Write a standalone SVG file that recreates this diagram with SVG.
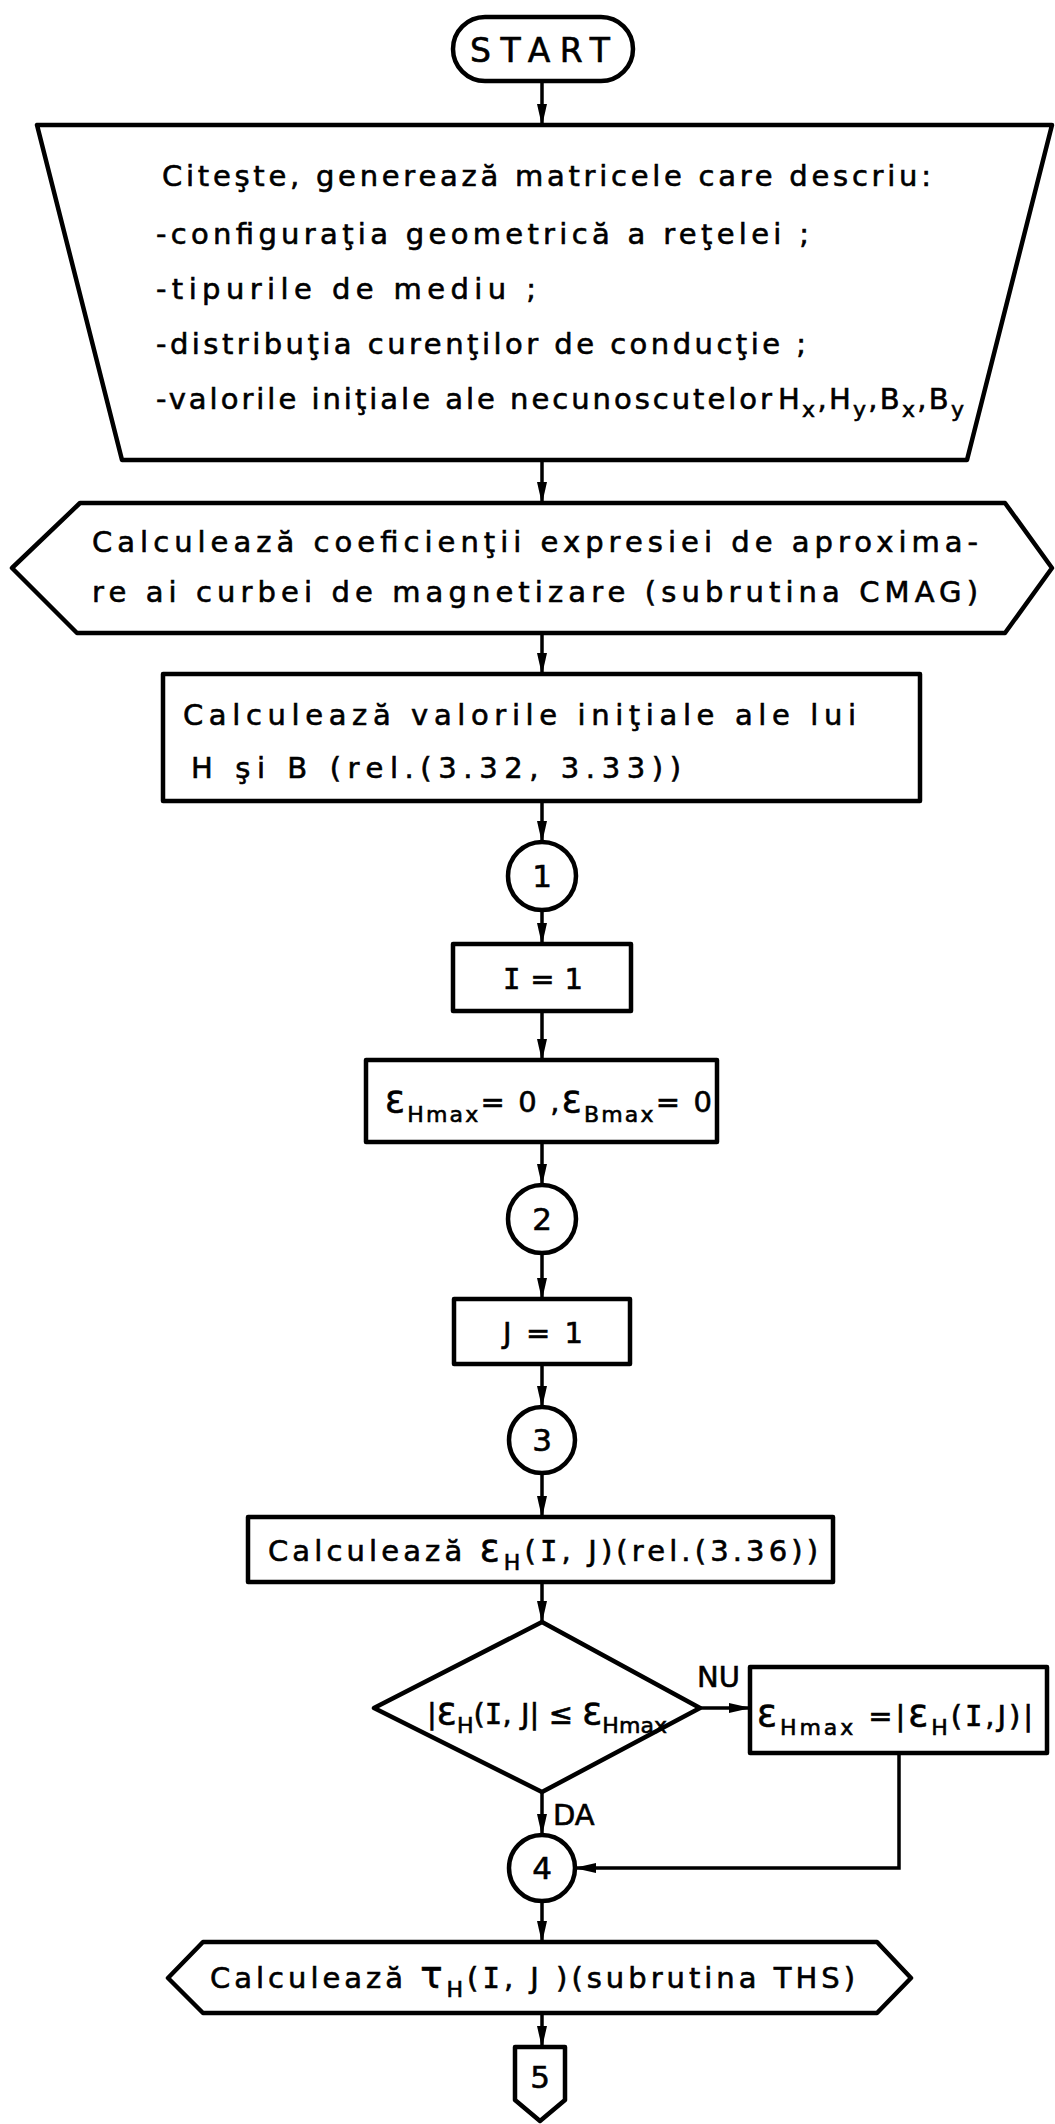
<svg xmlns="http://www.w3.org/2000/svg" width="1055" height="2124" viewBox="0 0 1055 2124">
<style>
.box{fill:#fff;stroke:#000;stroke-width:4.5;stroke-linejoin:round}
.con{fill:none;stroke:#000;stroke-width:3.5}
.t{font-family:'DejaVu Sans','Liberation Sans',sans-serif;font-size:29px;fill:#000;stroke:#000;stroke-width:0.6}
.s{font-size:22px}
.e{font-size:37px}
.n{font-size:31px}
.m{font-family:'DejaVu Sans Mono',monospace}
</style>
<defs>
<marker id="ah" markerUnits="userSpaceOnUse" markerWidth="22" markerHeight="10" refX="21" refY="5" orient="auto">
<path d="M0,0 L22,5 L0,10 z" fill="#000"/>
</marker>
</defs>
<rect width="1055" height="2124" fill="#fff"/>

<g id="connectors">
<line class="con" x1="542" y1="82" x2="542" y2="125" marker-end="url(#ah)"/>
<line class="con" x1="542" y1="460" x2="542" y2="503" marker-end="url(#ah)"/>
<line class="con" x1="542" y1="633" x2="542" y2="674" marker-end="url(#ah)"/>
<line class="con" x1="542" y1="801" x2="542" y2="842" marker-end="url(#ah)"/>
<line class="con" x1="542" y1="910" x2="542" y2="944" marker-end="url(#ah)"/>
<line class="con" x1="542" y1="1011" x2="542" y2="1060" marker-end="url(#ah)"/>
<line class="con" x1="542" y1="1142" x2="542" y2="1185" marker-end="url(#ah)"/>
<line class="con" x1="542" y1="1253" x2="542" y2="1299" marker-end="url(#ah)"/>
<line class="con" x1="542" y1="1364" x2="542" y2="1407" marker-end="url(#ah)"/>
<line class="con" x1="542" y1="1473" x2="542" y2="1517" marker-end="url(#ah)"/>
<line class="con" x1="542" y1="1582" x2="542" y2="1622" marker-end="url(#ah)"/>
<line class="con" x1="542" y1="1792" x2="542" y2="1835" marker-end="url(#ah)"/>
<line class="con" x1="700" y1="1708" x2="750" y2="1708" marker-end="url(#ah)"/>
<polyline class="con" points="899,1753 899,1868 575,1868" marker-end="url(#ah)"/>
<line class="con" x1="542" y1="1901" x2="542" y2="1942" marker-end="url(#ah)"/>
<line class="con" x1="542" y1="2013" x2="542" y2="2047" marker-end="url(#ah)"/>
<text class="t" x="697" y="1687">NU</text>
<text class="t" x="553" y="1825">DA</text>
</g>

<g id="start">
<rect class="box" x="453" y="17" width="180" height="64" rx="32"/>
<text class="t" x="470" y="62" style="font-size:33px" textLength="140" lengthAdjust="spacing">START</text>
</g>

<g id="input">
<polygon class="box" points="37,125 1052,125 967,460 122,460"/>
<text class="t" x="162" y="186" textLength="769" lengthAdjust="spacing">Citeşte, generează matricele care descriu:</text>
<text class="t" x="156" y="244" textLength="653" lengthAdjust="spacing">-configuraţia geometrică a reţelei ;</text>
<text class="t" x="156" y="299" textLength="380" lengthAdjust="spacing">-tipurile de mediu ;</text>
<text class="t" x="156" y="354" textLength="650" lengthAdjust="spacing">-distribuţia curenţilor de conducţie ;</text>
<text class="t" x="156" y="409" textLength="616" lengthAdjust="spacing">-valorile iniţiale ale necunoscutelor</text>
<text class="t" x="778" y="409" textLength="186" lengthAdjust="spacing">H<tspan class="s" dy="8">x</tspan><tspan dy="-8">,H</tspan><tspan class="s" dy="8">y</tspan><tspan dy="-8">,B</tspan><tspan class="s" dy="8">x</tspan><tspan dy="-8">,B</tspan><tspan class="s" dy="8">y</tspan></text>
</g>

<g id="cmag">
<polygon class="box" points="80,503 1005,503 1052,568 1005,633 77,633 12,568"/>
<text class="t" x="92" y="552" textLength="886" lengthAdjust="spacing">Calculează coeficienţii expresiei de aproxima-</text>
<text class="t" x="92" y="602" textLength="886" lengthAdjust="spacing">re ai curbei de magnetizare (subrutina CMAG)</text>
</g>

<g id="init">
<rect class="box" x="163" y="674" width="757" height="127"/>
<text class="t" x="183" y="725" textLength="673" lengthAdjust="spacing">Calculează valorile iniţiale ale lui</text>
<text class="t" x="191" y="778" textLength="490" lengthAdjust="spacing">H şi B (rel.(3.32, 3.33))</text>
</g>

<g id="c1">
<circle class="box" cx="542" cy="876" r="34"/>
<text class="t n" x="542" y="887" text-anchor="middle">1</text>
</g>

<g id="i1">
<rect class="box" x="453" y="944" width="178" height="67"/>
<text class="t" x="503" y="989" textLength="80" lengthAdjust="spacing"><tspan class="m">I</tspan> = 1</text>
</g>

<g id="emax0">
<rect class="box" x="366" y="1060" width="351" height="82"/>
<text class="t" x="385" y="1112" textLength="327" lengthAdjust="spacing"><tspan class="e">ε</tspan><tspan class="s" dy="10">Hmax</tspan><tspan dy="-10">= 0 ,</tspan><tspan class="e">ε</tspan><tspan class="s" dy="10">Bmax</tspan><tspan dy="-10">= 0</tspan></text>
</g>

<g id="c2">
<circle class="box" cx="542" cy="1219" r="34"/>
<text class="t n" x="542" y="1230" text-anchor="middle">2</text>
</g>

<g id="j1">
<rect class="box" x="454" y="1299" width="176" height="65"/>
<text class="t" x="503" y="1343" textLength="80" lengthAdjust="spacing">J = 1</text>
</g>

<g id="c3">
<circle class="box" cx="542" cy="1440" r="33"/>
<text class="t n" x="542" y="1451" text-anchor="middle">3</text>
</g>

<g id="calcEH">
<rect class="box" x="248" y="1517" width="585" height="65"/>
<text class="t" x="268" y="1561" textLength="550" lengthAdjust="spacing">Calculează <tspan class="e">ε</tspan><tspan class="s" dy="9">H</tspan><tspan dy="-9">(<tspan class="m">I</tspan>, J)(rel.(3.36))</tspan></text>
</g>

<g id="decision">
<polygon class="box" points="542,1622 700,1708 542,1792 374,1708"/>
<text class="t" x="427" y="1724" textLength="240" lengthAdjust="spacing">|<tspan class="e">ε</tspan><tspan class="s" dy="9">H</tspan><tspan dy="-9">(<tspan class="m">I</tspan>, J| ≤ </tspan><tspan class="e">ε</tspan><tspan class="s" dy="9">Hmax</tspan></text>
</g>

<g id="setEmax">
<rect class="box" x="750" y="1667" width="297" height="86"/>
<text class="t" x="757" y="1726" textLength="276" lengthAdjust="spacing"><tspan class="e">ε</tspan><tspan class="s" dy="9">Hmax</tspan><tspan dy="-9"> =|</tspan><tspan class="e">ε</tspan><tspan class="s" dy="9">H</tspan><tspan dy="-9">(<tspan class="m">I</tspan>,J)|</tspan></text>
</g>

<g id="c4">
<circle class="box" cx="542" cy="1868" r="33"/>
<text class="t n" x="542" y="1879" text-anchor="middle">4</text>
</g>

<g id="ths">
<polygon class="box" points="203,1942 877,1942 911,1978 877,2013 203,2013 168,1978"/>
<text class="t" x="210" y="1988" textLength="645" lengthAdjust="spacing">Calculează <tspan class="e">τ</tspan><tspan class="s" dy="9">H</tspan><tspan dy="-9">(<tspan class="m">I</tspan>, J )(subrutina THS)</tspan></text>
</g>

<g id="c5">
<polygon class="box" points="515,2047 565,2047 565,2100 540,2121 515,2100"/>
<text class="t n" x="540" y="2088" text-anchor="middle">5</text>
</g>
</svg>
